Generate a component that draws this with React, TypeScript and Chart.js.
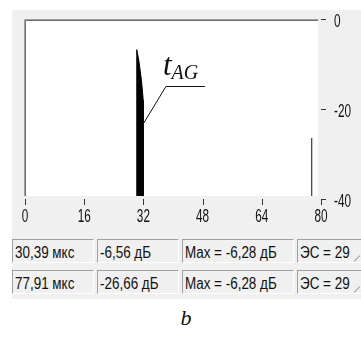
import React, { useEffect, useRef } from "react";
import { Chart, registerables } from "chart.js";

Chart.register(...registerables);

// ---- data ----
const X_TICKS = [0, 16, 32, 48, 64, 80];
const Y_TICKS = [0, -20, -40];
const Y_TICK_LABELS = ["0", "-20", "-40"];

// echo 1 (main peak, filled)
const ECHO1_US = [30.2, 30.2, 30.8, 31.5, 31.95, 31.95];
const ECHO1_DB = [-39.1, -6.6, -9.2, -13.6, -17.8, -39.1];
// echo 2 (thin line)
const ECHO2_US = [77.5, 77.5];
const ECHO2_DB = [-39.1, -26.2];

const PLOT_END_US = 79.2;
const FLOOR_DB = -39.1;

const ANNOT_US = 31.6;
const ANNOT_DB = -23.6;
const ANNOT_MAIN = "t";
const ANNOT_SUB = "AG";

const ROW1 = ["30,39 мкс", "-6,56 дБ", "Max = -6,28 дБ", "ЭС = 29"];
const ROW2 = ["77,91 мкс", "-26,66 дБ", "Max = -6,28 дБ", "ЭС = 29"];
const CAPTION = "b";

const TICK_FONT = "19px 'Liberation Sans', Arial, sans-serif";

function squashText(
  ctx: CanvasRenderingContext2D,
  text: string,
  x: number,
  y: number,
  sx: number,
  align: CanvasTextAlign
) {
  ctx.save();
  ctx.translate(x, y);
  ctx.scale(sx, 1);
  ctx.textAlign = align;
  ctx.textBaseline = "alphabetic";
  ctx.fillText(text, 0, 0);
  ctx.restore();
}

const framePlugin = {
  id: "frame",
  beforeDatasetsDraw(chart: any) {
    const { ctx } = chart;
    const xs = chart.scales.x;
    const ys = chart.scales.y;
    const l = Math.round(xs.getPixelForValue(0)) - 1;
    const t = Math.round(ys.getPixelForValue(0)) - 1;
    const r = Math.round(xs.getPixelForValue(PLOT_END_US));
    const b = Math.round(ys.getPixelForValue(FLOOR_DB));
    ctx.save();
    ctx.fillStyle = "#ffffff";
    ctx.fillRect(l, t, r - l, b - t);
    ctx.restore();
  },
  afterDatasetsDraw(chart: any) {
    const { ctx } = chart;
    const xs = chart.scales.x;
    const ys = chart.scales.y;
    const l = Math.round(xs.getPixelForValue(0)) - 1;
    const t = Math.round(ys.getPixelForValue(0)) - 1;
    const r = Math.round(xs.getPixelForValue(PLOT_END_US));
    const b = Math.round(ys.getPixelForValue(FLOOR_DB));
    ctx.save();
    // sunken border (top + left)
    ctx.lineWidth = 1;
    ctx.strokeStyle = "#a0a0a0";
    ctx.beginPath();
    ctx.moveTo(l + 0.5, b);
    ctx.lineTo(l + 0.5, t + 0.5);
    ctx.lineTo(r, t + 0.5);
    ctx.stroke();
    ctx.strokeStyle = "#6e6e6e";
    ctx.beginPath();
    ctx.moveTo(l + 1.5, b);
    ctx.lineTo(l + 1.5, t + 1.5);
    ctx.lineTo(r, t + 1.5);
    ctx.stroke();

    // x ticks
    const axisY = Math.round(ys.getPixelForValue(-40)) - 1;
    const rightX = Math.round(xs.getPixelForValue(80));
    ctx.strokeStyle = "#333";
    X_TICKS.forEach((v) => {
      const px = Math.round(xs.getPixelForValue(v)) + 0.5;
      ctx.beginPath();
      ctx.moveTo(px, axisY);
      ctx.lineTo(px, axisY + 6);
      ctx.stroke();
    });
    // y ticks (right side)
    Y_TICKS.forEach((v) => {
      const py = Math.round(ys.getPixelForValue(v)) - 0.5;
      ctx.beginPath();
      ctx.moveTo(rightX, py);
      ctx.lineTo(rightX + 5, py);
      ctx.stroke();
    });

    // labels
    ctx.fillStyle = "#111";
    ctx.font = TICK_FONT;
    X_TICKS.forEach((v) => {
      const px = xs.getPixelForValue(v);
      squashText(ctx, String(v), px, axisY + 23, 0.62, "center");
    });
    Y_TICKS.forEach((v, i) => {
      const py = ys.getPixelForValue(v);
      squashText(ctx, Y_TICK_LABELS[i], rightX + 13, py + 6.5, 0.62, "left");
    });

    // annotation t_AG
    const ax = xs.getPixelForValue(ANNOT_US);
    const ay = ys.getPixelForValue(ANNOT_DB);
    const ex = ax + 24;
    const ey = Math.round(ay - 40) + 0.5;
    ctx.strokeStyle = "#111";
    ctx.lineWidth = 1;
    ctx.beginPath();
    ctx.moveTo(ax, ay);
    ctx.lineTo(ex, ey);
    ctx.lineTo(ax + 63, ey);
    ctx.stroke();
    ctx.fillStyle = "#111";
    ctx.textAlign = "left";
    ctx.textBaseline = "alphabetic";
    ctx.font = "italic 31px 'Liberation Serif', 'Times New Roman', serif";
    ctx.fillText(ANNOT_MAIN, ex - 3, ey - 12);
    const tw = ctx.measureText(ANNOT_MAIN).width;
    ctx.font = "italic 20px 'Liberation Serif', 'Times New Roman', serif";
    ctx.fillText(ANNOT_SUB, ex - 3 + tw, ey - 8);
    ctx.restore();
  },
};

function Box({ left, top, width, text }: { left: number; top: number; width: number; text: string }) {
  return (
    <div
      style={{
        position: "absolute",
        left,
        top,
        width,
        height: 24,
        boxSizing: "border-box",
        borderTop: "1px solid #a0a0a0",
        borderLeft: "1px solid #a0a0a0",
        borderRight: "1px solid #ffffff",
        borderBottom: "1px solid #ffffff",
        background: "#f0f0f0",
        overflow: "hidden",
      }}
    >
      <span
        style={{
          position: "absolute",
          left: 2,
          top: 4,
          display: "inline-block",
          whiteSpace: "nowrap",
          fontFamily: "'Liberation Sans', Arial, sans-serif",
          fontSize: 16,
          lineHeight: "18px",
          color: "#111",
          transform: "scaleX(0.84)",
          transformOrigin: "left top",
        }}
      >
        {text}
      </span>
    </div>
  );
}

const BOX_LEFTS = [12, 97, 182, 297];
const BOX_WIDTHS = [82, 82, 112, 70];

export default function App() {
  const canvasRef = useRef<HTMLCanvasElement | null>(null);

  useEffect(() => {
    const canvas = canvasRef.current;
    if (!canvas) return;
    const chart = new Chart(canvas, {
      type: "scatter",
      data: {
        datasets: [
          {
            label: "echo1",
            data: ECHO1_US.map((x, i) => ({ x, y: ECHO1_DB[i] })),
            showLine: true,
            borderColor: "#000",
            backgroundColor: "#000",
            borderWidth: 1,
            pointRadius: 0,
            tension: 0,
            fill: { value: FLOOR_DB },
          },
          {
            label: "echo2",
            data: ECHO2_US.map((x, i) => ({ x, y: ECHO2_DB[i] })),
            showLine: true,
            borderColor: "#111",
            borderWidth: 1,
            pointRadius: 0,
            fill: false,
          },
        ],
      },
      options: {
        responsive: false,
        animation: false,
        devicePixelRatio: 1,
        layout: { padding: { left: 25, right: 40, top: 20, bottom: 32 } },
        plugins: { legend: { display: false }, tooltip: { enabled: false } },
        scales: {
          x: { type: "linear", min: 0, max: 80, display: false },
          y: { type: "linear", min: -40, max: 0, display: false },
        },
      },
      plugins: [framePlugin],
    });
    return () => chart.destroy();
  }, []);

  return (
    <div
      style={{
        position: "absolute",
        left: 0,
        top: 0,
        width: 361,
        height: 338,
        background: "#ffffff",
        overflow: "hidden",
      }}
    >
      <div
        style={{
          position: "absolute",
          left: 12,
          top: 10,
          width: 349,
          height: 289,
          background: "#f0f0f0",
        }}
      />
      <canvas
        ref={canvasRef}
        width={361}
        height={232}
        style={{ position: "absolute", left: 0, top: 0, width: 361, height: 232 }}
      />
      {ROW1.map((t, i) => (
        <Box key={"a" + i} left={BOX_LEFTS[i]} top={239} width={BOX_WIDTHS[i]} text={t} />
      ))}
      {ROW2.map((t, i) => (
        <Box key={"b" + i} left={BOX_LEFTS[i]} top={270} width={BOX_WIDTHS[i]} text={t} />
      ))}
      <div
        style={{
          position: "absolute",
          left: 353,
          top: 258,
          width: 8,
          height: 1,
          background: "#a0a0a0",
          transform: "rotate(-45deg)",
        }}
      />
      <div
        style={{
          position: "absolute",
          left: 353,
          top: 289,
          width: 8,
          height: 1,
          background: "#a0a0a0",
          transform: "rotate(-45deg)",
        }}
      />
      <div
        style={{
          position: "absolute",
          left: 166,
          top: 305,
          width: 40,
          textAlign: "center",
          fontFamily: "'Liberation Serif', 'Times New Roman', serif",
          fontStyle: "italic",
          fontSize: 22,
          lineHeight: "26px",
          color: "#111",
        }}
      >
        {CAPTION}
      </div>
    </div>
  );
}
